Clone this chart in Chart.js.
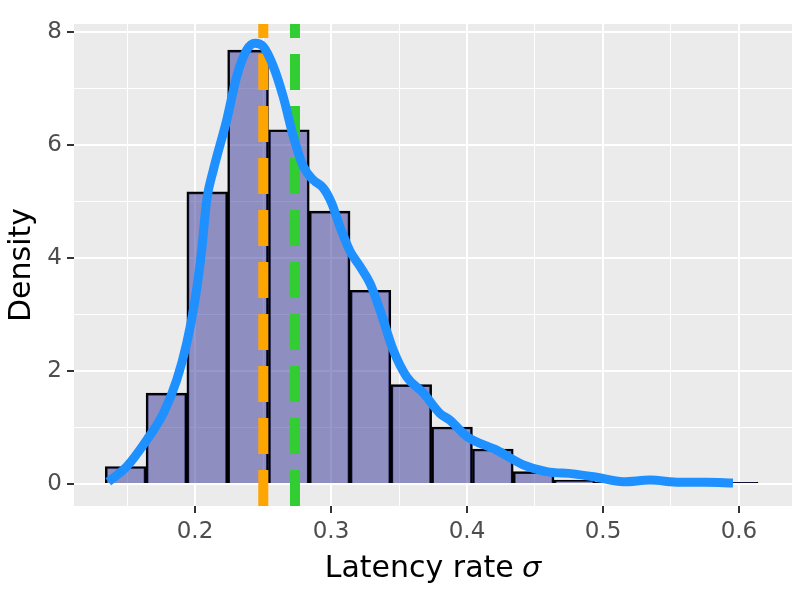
<!DOCTYPE html>
<html>
<head>
<meta charset="utf-8">
<script src="https://cdn.jsdelivr.net/npm/chart.js@4"></script>
<style>
  html, body { margin: 0; padding: 0; background: #fff; }
  #wrap { width: 800px; height: 600px; }
</style>
</head>
<body>
<div id="wrap"><canvas id="histChart" width="800" height="600"></canvas></div>
<script>
// Histogram bins (centers, bin width 0.03)
const binCenters = [0.149, 0.179, 0.209, 0.239, 0.269, 0.299, 0.329, 0.359,
                    0.389, 0.419, 0.449, 0.479, 0.509, 0.539, 0.569, 0.599];
const binDensity = [0.31, 1.61, 5.17, 7.68, 6.27, 4.83, 3.43, 1.76,
                    1.01, 0.62, 0.22, 0.07, 0.03, 0.03, 0.03, 0.03];

// Density curve
const densX = [0.1362, 0.1498, 0.1645, 0.1767, 0.1865, 0.1939, 0.2000, 0.2049,
               0.2086, 0.2135, 0.2233, 0.2306, 0.2380, 0.2441, 0.2502, 0.2576,
               0.2649, 0.2723, 0.2796, 0.2870, 0.2943, 0.3005, 0.3066, 0.3140,
               0.3213, 0.3287, 0.3360, 0.3458, 0.3556, 0.3679, 0.3801, 0.3875,
               0.4000, 0.4218, 0.4414, 0.4586, 0.4782, 0.4953, 0.5150, 0.5346,
               0.5566, 0.5760, 0.5956];
const densY = [0.04, 0.31, 0.78, 1.25, 1.84, 2.49, 3.26, 4.14,
               5.03, 5.56, 6.44, 7.21, 7.68, 7.80, 7.74, 7.39,
               6.85, 6.15, 5.62, 5.38, 5.24, 4.97, 4.55, 4.12,
               3.85, 3.55, 3.08, 2.37, 1.90, 1.61, 1.25, 1.13,
               0.84, 0.60, 0.34, 0.22, 0.18, 0.12, 0.04, 0.07,
               0.03, 0.03, 0.02];

// Reference lines (orange, green)
const vlineX = [0.2502, 0.2735];
const vlineColors = ['#FFA500', '#32CD32'];

// Axes
const xRange = [0.111, 0.639];
const yRange = [-0.389, 8.142];
const xMajor = [0.2, 0.3, 0.4, 0.5, 0.6];
const xMajorLabels = ['0.2', '0.3', '0.4', '0.5', '0.6'];
const xMinor = [0.15, 0.25, 0.35, 0.45, 0.55];
const yMajor = [0, 2, 4, 6, 8];
const yMajorLabels = ['0', '2', '4', '6', '8'];
const yMinor = [1, 3, 5, 7];

const FONT = "'DejaVu Sans', sans-serif";

const panelBg = {
  id: 'panelBg',
  beforeDraw(chart) {
    const a = chart.chartArea;
    const c = chart.ctx;
    c.save();
    c.fillStyle = '#EBEBEB';
    c.fillRect(a.left, a.top, a.right - a.left, a.bottom - a.top);
    c.restore();
  }
};

function isMajor(list, v) {
  return list.some(m => Math.abs(m - v) < 1e-9);
}

const datasets = [{
  type: 'line',
  data: densX.map((x, i) => ({ x: x, y: densY[i] })),
  borderColor: '#1E90FF',
  borderWidth: 9,
  pointRadius: 0,
  cubicInterpolationMode: 'monotone',
  borderJoinStyle: 'round',
  order: 0
}];

vlineX.forEach((x, i) => {
  datasets.push({
    type: 'line',
    data: [{ x: x, y: yRange[0] }, { x: x, y: yRange[1] }],
    borderColor: vlineColors[i],
    borderWidth: 10,
    borderDash: [36, 16],
    pointRadius: 0,
    order: 1
  });
});

datasets.push({
  type: 'bar',
  data: binCenters.map((x, i) => ({ x: x, y: binDensity[i] })),
  backgroundColor: 'rgba(49, 49, 149, 0.5)',
  borderColor: '#000000',
  borderWidth: 2,
  barPercentage: 1,
  categoryPercentage: 1,
  grouped: false,
  order: 2
});

const ctx = document.getElementById('histChart').getContext('2d');

new Chart(ctx, {
  data: { datasets: datasets },
  options: {
    responsive: false,
    animation: false,
    events: [],
    layout: { padding: { left: 0, right: 8, top: 24, bottom: 0 } },
    plugins: {
      legend: { display: false },
      tooltip: { enabled: false }
    },
    scales: {
      x: {
        type: 'linear',
        min: xRange[0],
        max: xRange[1],
        offset: false,
        afterBuildTicks(scale) {
          scale.ticks = xMinor.concat(xMajor).sort((a, b) => a - b).map(v => ({ value: v }));
        },
        afterFit(scale) { scale.height = 94; },
        border: { display: false },
        grid: {
          offset: false,
          color: '#FFFFFF',
          lineWidth: c => (c.tick && isMajor(xMajor, c.tick.value)) ? 2 : 1,
          tickLength: 7,
          tickWidth: 2,
          tickColor: c => (c.tick && isMajor(xMajor, c.tick.value)) ? '#333333' : 'rgba(0,0,0,0)'
        },
        ticks: {
          autoSkip: false,
          maxRotation: 0,
          padding: 5,
          color: '#4D4D4D',
          font: { family: FONT, size: 23 },
          callback(value) {
            const i = xMajor.findIndex(m => Math.abs(m - value) < 1e-9);
            return i >= 0 ? xMajorLabels[i] : '';
          }
        },
        title: {
          display: true,
          text: 'Latency rate 𝜎',
          color: '#000000',
          font: { family: FONT, size: 30 },
          padding: { top: 4, bottom: 13 }
        }
      },
      y: {
        type: 'linear',
        min: yRange[0],
        max: yRange[1],
        afterBuildTicks(scale) {
          scale.ticks = yMinor.concat(yMajor).sort((a, b) => a - b).map(v => ({ value: v }));
        },
        afterFit(scale) { scale.width = 74; },
        border: { display: false },
        grid: {
          color: '#FFFFFF',
          lineWidth: c => (c.tick && isMajor(yMajor, c.tick.value)) ? 2 : 1,
          tickLength: 7,
          tickWidth: 2,
          tickColor: c => (c.tick && isMajor(yMajor, c.tick.value)) ? '#333333' : 'rgba(0,0,0,0)'
        },
        ticks: {
          autoSkip: false,
          padding: 5,
          color: '#4D4D4D',
          font: { family: FONT, size: 23 },
          callback(value) {
            const i = yMajor.findIndex(m => Math.abs(m - value) < 1e-9);
            return i >= 0 ? yMajorLabels[i] : '';
          }
        },
        title: {
          display: true,
          text: 'Density',
          color: '#000000',
          font: { family: FONT, size: 30 },
          padding: { top: 4, bottom: 4 }
        }
      }
    }
  },
  plugins: [panelBg]
});
</script>
</body>
</html>
